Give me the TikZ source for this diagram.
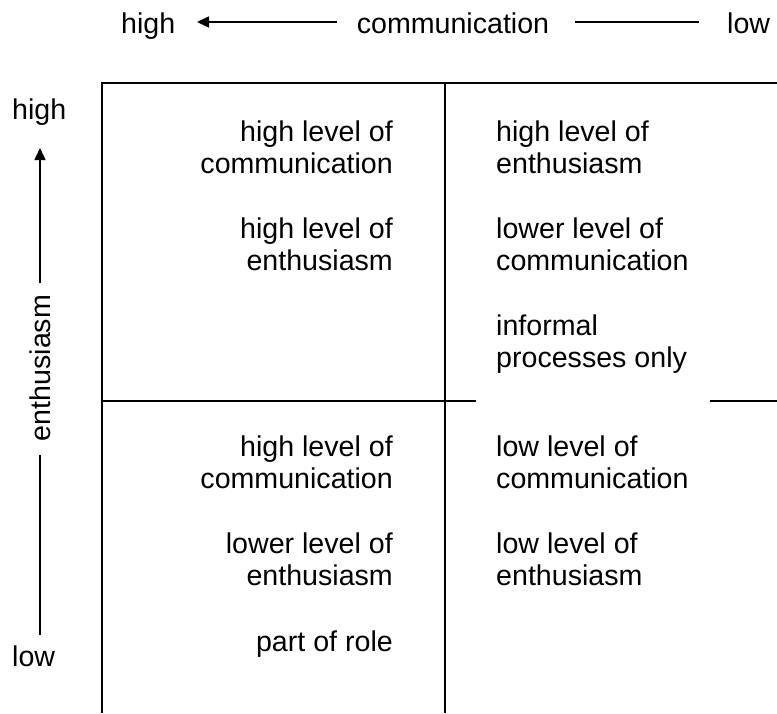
\documentclass[tikz,border=0pt]{standalone}
\usepackage{fontspec}
\setmainfont{Liberation Sans}
\usetikzlibrary{arrows.meta}

\begin{document}
\begin{tikzpicture}[x=1pt,y=-1pt,
		every node/.style={inner sep=0pt,font=\fontsize{28.6}{32.5}\selectfont},
		grid/.style={line width=1.6pt},
		axis/.style={line width=1.6pt},
		tip/.style={-{Triangle[length=12pt,width=11pt]}},
		cellL/.style={align=right,anchor=base east},
		cellR/.style={align=left,anchor=base west}]
		
		\useasboundingbox (0,0) rectangle (777,713);
		
		% communication axis
		\node[anchor=base west] (commHigh) at (121,33) {high};
		\node[anchor=base] (commLabel) at (453,33) {communication};
		\node[anchor=base west] (commLow) at (727,33) {low};
		\coordinate (commTip) at (197,22);
		\coordinate (commA) at (337,22);
		\coordinate (commB) at (575,22);
		\coordinate (commC) at (699,22);
		\draw[axis,tip] (commA) -- (commTip);
		\draw[axis] (commB) -- (commC);
		
		% enthusiasm axis
		\node[anchor=base west] (enthHigh) at (12,119) {high};
		\node[rotate=90] (enthLabel) at (40,368) {enthusiasm};
		\node[anchor=base west] (enthLow) at (12,666) {low};
		\coordinate (enthTip) at (40,148);
		\coordinate (enthA) at (40,283);
		\coordinate (enthB) at (40,455);
		\coordinate (enthC) at (40,635);
		\draw[axis,tip] (enthA) -- (enthTip);
		\draw[axis] (enthB) -- (enthC);
		
		% grid
		\coordinate (tl) at (102,83);
		\coordinate (tm) at (445,83);
		\coordinate (tr) at (777,83);
		\coordinate (bl) at (102,713);
		\coordinate (bm) at (445,713);
		\coordinate (ml) at (102,401);
		\coordinate (gapL) at (476,401);
		\coordinate (gapR) at (710,401);
		\coordinate (mr) at (777,401);
		\draw[grid] (bl) -- (tl) -- (tr);
		\draw[grid] (tm) -- (bm);
		\draw[grid] (ml) -- (gapL);
		\draw[grid] (gapR) -- (mr);
		
		% upper left (base = last line)
		\node[cellL] (ulA) at (393,173.5) {high level of\\communication};
		\node[cellL] (ulB) at (393,270.5) {high level of\\enthusiasm};
		
		% upper right
		\node[cellR] (urA) at (496,173.5) {high level of\\enthusiasm};
		\node[cellR] (urB) at (496,270.5) {lower level of\\communication};
		\node[cellR] (urC) at (496,367.5) {informal\\processes only};
		
		% lower left
		\node[cellL] (llA) at (393,488.5) {high level of\\communication};
		\node[cellL] (llB) at (393,585.5) {lower level of\\enthusiasm};
		\node[cellL] (llC) at (393,651) {part of role};
		
		% lower right
		\node[cellR] (lrA) at (496,488.5) {low level of\\communication};
		\node[cellR] (lrB) at (496,585.5) {low level of\\enthusiasm};
		
	\end{tikzpicture}
\end{document}
